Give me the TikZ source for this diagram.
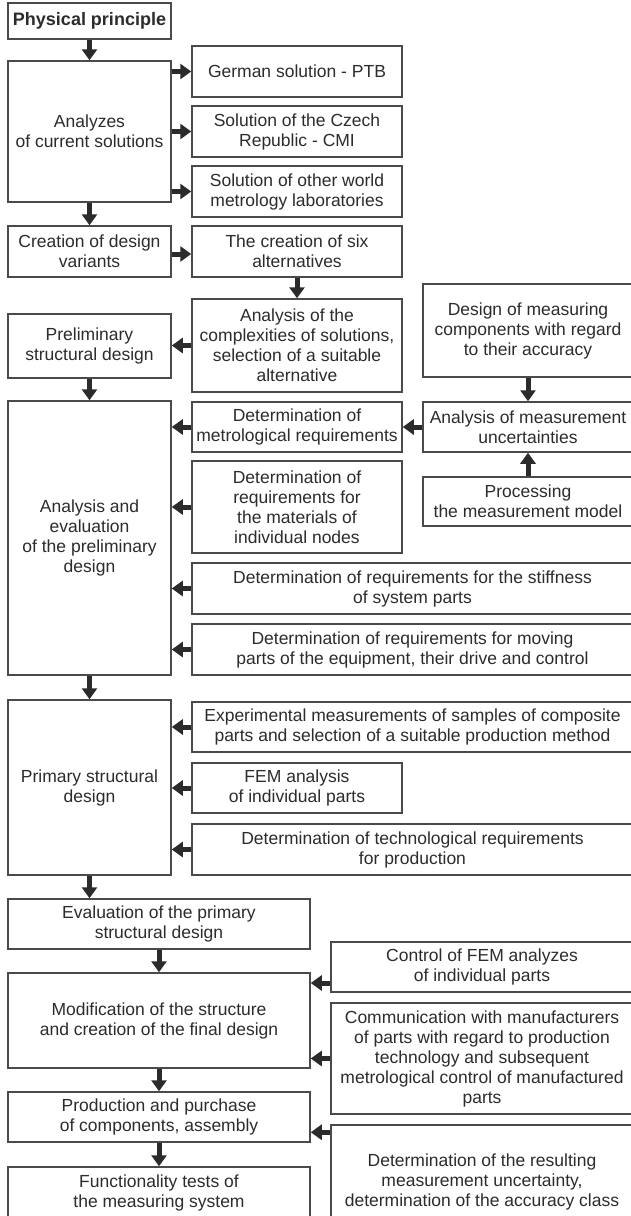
\documentclass[tikz,border=0pt]{standalone}
\usepackage{fontspec}
\setmainfont{Liberation Sans}
\usetikzlibrary{arrows.meta}
\definecolor{boxline}{HTML}{4A4A4A}
\definecolor{arrcol}{HTML}{2B2B2B}
\definecolor{txt}{HTML}{2C2C2C}
\begin{document}
\begin{tikzpicture}[x=1pt,y=-1pt,
  box/.style={draw=boxline,line width=1.5pt,rectangle,inner sep=0pt,align=center,
    text=txt,font=\fontsize{17.5}{20}\selectfont},
  arr/.style={draw=arrcol,line width=5pt,-{Triangle[length=11pt,width=15pt]}}]
\useasboundingbox[fill=white] (0,0) rectangle (631,1216);
\clip (0,0) rectangle (631,1216);
% left column
\node[box,minimum width=163pt,minimum height=36pt] (phys) at (89.5,21) {\fontsize{18}{20}\selectfont\textbf{Physical principle}};
\node[box,minimum width=163pt,minimum height=141pt] (anal) at (89.5,131.5) {Analyzes\\of current solutions};
\node[box,minimum width=163pt,minimum height=51pt] (crea) at (89.5,251.5) {Creation of design\\variants};
\node[box,minimum width=163pt,minimum height=64pt] (prelim) at (89.5,346) {Preliminary\\structural design};
\node[box,minimum width=163pt,minimum height=274pt] (aneval) at (89.5,538) {Analysis and\\evaluation\\of the preliminary\\design};
\node[box,minimum width=163pt,minimum height=175pt] (prim) at (89.5,787.5) {Primary structural\\design};
\node[box,minimum width=302pt,minimum height=50pt] (evalp) at (159,924) {Evaluation of the primary\\structural design};
\node[box,minimum width=302pt,minimum height=95pt] (modif) at (159,1020.5) {Modification of the structure\\and creation of the final design};
\node[box,minimum width=302pt,minimum height=50pt] (prod) at (159,1117) {Production and purchase\\of components, assembly};
\node[box,minimum width=302pt,minimum height=52pt] (func) at (159,1193) {Functionality tests of\\the measuring system};
% middle column
\node[box,minimum width=210pt,minimum height=51pt] (ger) at (297,71.5) {German solution - PTB};
\node[box,minimum width=210pt,minimum height=51pt] (cze) at (297,131.5) {Solution of the Czech\\Republic - CMI};
\node[box,minimum width=210pt,minimum height=51pt] (oth) at (297,191.5) {Solution of other world\\metrology laboratories};
\node[box,minimum width=210pt,minimum height=51pt] (six) at (297,251.5) {The creation of six\\alternatives};
\node[box,minimum width=210pt,minimum height=93pt] (cmplx) at (297,345.5) {Analysis of the\\complexities of solutions,\\selection of a suitable\\alternative};
\node[box,minimum width=210pt,minimum height=50pt] (metro) at (297,427) {Determination of\\metrological requirements};
\node[box,minimum width=210pt,minimum height=92pt] (mater) at (297,507) {Determination of\\requirements for\\the materials of\\individual nodes};
\node[box,minimum width=210pt,minimum height=50pt] (fem) at (297,788) {FEM analysis\\of individual parts};
% right column
\node[box,minimum width=210pt,minimum height=93pt] (desmeas) at (528,330.5) {Design of measuring\\components with regard\\to their accuracy};
\node[box,minimum width=210pt,minimum height=50pt] (anmeas) at (528,427) {Analysis of measurement\\uncertainties};
\node[box,minimum width=210pt,minimum height=49pt] (proc) at (528,501.5) {Processing\\the measurement model};
% wide boxes
\node[box,minimum width=441pt,minimum height=51pt] (stiff) at (412.5,588.5) {Determination of requirements for the stiffness\\of system parts};
\node[box,minimum width=441pt,minimum height=51pt] (moving) at (412.5,649.5) {Determination of requirements for moving\\parts of the equipment, their drive and control};
\node[box,minimum width=441pt,minimum height=50pt] (exper) at (412.5,727) {Experimental measurements of samples of composite\\parts and selection of a suitable production method};
\node[box,minimum width=441pt,minimum height=51pt] (techn) at (412.5,849.5) {Determination of technological requirements\\for production};
\node[box,minimum width=302pt,minimum height=50pt] (ctrlfem) at (482,967) {Control of FEM analyzes\\of individual parts};
\node[box,minimum width=302pt,minimum height=111pt] (comm) at (482,1058.5) {Communication with manufacturers\\of parts with regard to production\\technology and subsequent\\metrological control of manufactured\\parts};
\node[box,minimum width=302pt,minimum height=113pt] (detres) at (482,1181.5) {Determination of the resulting\\measurement uncertainty,\\determination of the accuracy class};
% helper coordinates
\coordinate (c0) at ([yshift=-2.5pt]crea.east);
\coordinate (c1) at ([yshift=-16pt]ctrlfem.west);
\coordinate (c2) at ([yshift=-8pt]detres.north west);
% arrows
\draw[arr] (phys.south) -- (anal.north);
\draw[arr] (anal.east |- ger.west) -- (ger.west);
\draw[arr] (anal.east |- cze.west) -- (cze.west);
\draw[arr] (anal.east |- oth.west) -- (oth.west);
\draw[arr] (anal.south) -- (crea.north);
\draw[arr] (c0) -- (c0 -| six.west);
\draw[arr] (six.south) -- (cmplx.north);
\draw[arr] (cmplx.west) -- (cmplx.west -| prelim.east);
\draw[arr] (prelim.south) -- (aneval.north);
\draw[arr] (desmeas.south) -- (anmeas.north);
\draw[arr] (anmeas.west) -- (metro.east);
\draw[arr] (proc.north) -- (anmeas.south);
\draw[arr] (metro.west) -- (metro.west -| aneval.east);
\draw[arr] (mater.west) -- (mater.west -| aneval.east);
\draw[arr] (stiff.west) -- (stiff.west -| aneval.east);
\draw[arr] (moving.west) -- (moving.west -| aneval.east);
\draw[arr] (aneval.south) -- (prim.north);
\draw[arr] (exper.west) -- (exper.west -| prim.east);
\draw[arr] (fem.west) -- (fem.west -| prim.east);
\draw[arr] (techn.west) -- (techn.west -| prim.east);
\draw[arr] (prim.south) -- (prim.south |- evalp.north);
\draw[arr] (evalp.south) -- (modif.north);
\draw[arr] (c1) -- (c1 -| modif.east);
\draw[arr] (comm.west) -- (comm.west -| modif.east);
\draw[arr] (modif.south) -- (prod.north);
\draw[arr] (c2) -- (c2 -| prod.east);
\draw[arr] (prod.south) -- (func.north);
\end{tikzpicture}
\end{document}
